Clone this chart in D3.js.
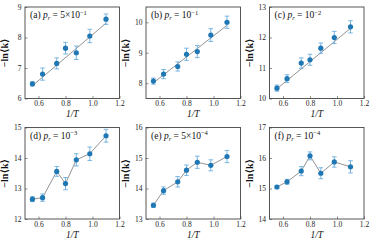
<!DOCTYPE html>
<html>
<head>
<meta charset="utf-8">
<script src="https://cdn.jsdelivr.net/npm/d3@7.9.0/dist/d3.min.js"></script>
<style>
  html, body { margin: 0; padding: 0; background: #fff; }
  svg { display: block; font-family: 'Liberation Serif', 'DejaVu Serif', serif; }
</style>
</head>
<body>
<div id="chart"></div>
<script>
// 1/T values shared by every panel
const invT = [0.555, 0.63, 0.735, 0.80, 0.88, 0.98, 1.10];

// -ln<k> values and error half-widths
const yA = [6.48, 6.80, 7.15, 7.65, 7.50, 8.05, 8.60];
const eA = [0.07, 0.20, 0.18, 0.19, 0.22, 0.22, 0.17];
const yB = [8.07, 8.30, 8.55, 8.95, 9.04, 9.58, 10.00];
const eB = [0.10, 0.15, 0.15, 0.20, 0.20, 0.21, 0.20];
const yC = [10.34, 10.65, 11.16, 11.27, 11.65, 12.00, 12.35];
const eC = [0.10, 0.13, 0.17, 0.18, 0.17, 0.20, 0.20];
const yD = [12.65, 12.70, 13.56, 13.16, 13.94, 14.14, 14.73];
const eD = [0.08, 0.12, 0.16, 0.20, 0.20, 0.22, 0.21];
const yE = [13.45, 13.93, 14.22, 14.60, 14.86, 14.76, 15.05];
const eE = [0.07, 0.12, 0.17, 0.17, 0.20, 0.18, 0.20];
const yF = [15.05, 15.22, 15.57, 16.07, 15.50, 15.87, 15.71];
const eF = [0.05, 0.08, 0.15, 0.13, 0.18, 0.17, 0.20];

// straight fit lines for (a)-(c): [y at x0, y at x1]
const fitX = [0.55, 1.1];
const fitA = [6.40, 8.47];
const fitB = [8.00, 9.90];
const fitC = [10.30, 12.30];

const panelTags = ['(a)', '(b)', '(c)', '(d)', '(e)', '(f)'];
const prMant = ['5\u00d710', '10', '10', '10', '5\u00d710', '10'];
const prExp = ['\u22121', '\u22121', '\u22122', '\u22123', '\u22124', '\u22124'];
const yDomains = [[6, 9], [7.5, 10.5], [10, 13], [12, 15], [13, 16], [14, 17]];
const yTicks = [[6, 7, 8, 9], [8, 9, 10], [10, 11, 12, 13], [12, 13, 14, 15], [13, 14, 15, 16], [14, 15, 16, 17]];
const xTicks = [0.6, 0.8, 1.0, 1.2];

const panels = [
  { y: yA, e: eA, fit: fitA },
  { y: yB, e: eB, fit: fitB },
  { y: yC, e: eC, fit: fitC },
  { y: yD, e: eD, fit: null },
  { y: yE, e: eE, fit: null },
  { y: yF, e: eF, fit: null },
];

const width = 374;
const height = 242;
const lefts = [25, 146, 269.5];
const tops = [7, 127.5];
const pw = 94.5;
const ph = 91.5;

const svg = d3.select('#chart').append('svg')
  .attr('width', width).attr('height', height);

const dotColor = '#1f77b4';
const errColor = '#6aaee0';

panels.forEach((p, i) => {
  const col = i % 3;
  const row = Math.floor(i / 3);
  const x0 = lefts[col];
  const y0 = tops[row];

  const x = d3.scaleLinear().domain([0.5, 1.2]).range([x0, x0 + pw]);
  const y = d3.scaleLinear().domain(yDomains[i]).range([y0 + ph, y0]);

  const g = svg.append('g');

  // axes, ticks pointing inward
  const xAxis = d3.axisBottom(x).tickValues(xTicks).tickFormat(d3.format('.1f'))
    .tickSizeInner(-2.5).tickSizeOuter(0).tickPadding(2.5);
  const yAxis = d3.axisLeft(y).tickValues(yTicks[i]).tickFormat(d3.format('d'))
    .tickSizeInner(-2.5).tickSizeOuter(0).tickPadding(3.5);

  g.append('g').attr('transform', `translate(0,${y0 + ph})`).call(xAxis)
    .call((s) => s.select('.domain').remove());
  g.append('g').attr('transform', `translate(${x0},0)`).call(yAxis)
    .call((s) => s.select('.domain').remove());

  g.selectAll('.tick text')
    .attr('font-family', "'Liberation Serif', serif")
    .attr('font-size', 7.5)
    .attr('fill', '#222');
  g.selectAll('.tick line').attr('stroke', '#444').attr('stroke-width', 0.6);

  // frame
  g.append('rect')
    .attr('x', x0).attr('y', y0).attr('width', pw).attr('height', ph)
    .attr('fill', 'none').attr('stroke', '#444').attr('stroke-width', 0.9);

  const pts = invT.map((t, k) => ({ t, v: p.y[k], e: p.e[k] }));

  // gray line: fit for (a)-(c), polyline for (d)-(f)
  if (p.fit) {
    g.append('line')
      .attr('x1', x(fitX[0])).attr('y1', y(p.fit[0]))
      .attr('x2', x(fitX[1])).attr('y2', y(p.fit[1]))
      .attr('stroke', '#777').attr('stroke-width', 0.8);
  } else {
    g.append('path')
      .datum(pts)
      .attr('d', d3.line().x((d) => x(d.t)).y((d) => y(d.v)))
      .attr('fill', 'none').attr('stroke', '#777').attr('stroke-width', 0.8);
  }

  // error bars
  const eb = g.append('g').attr('stroke', errColor).attr('stroke-width', 0.9);
  eb.selectAll('line.v').data(pts).join('line').attr('class', 'v')
    .attr('x1', (d) => x(d.t)).attr('x2', (d) => x(d.t))
    .attr('y1', (d) => y(d.v - d.e)).attr('y2', (d) => y(d.v + d.e));
  eb.selectAll('line.top').data(pts).join('line').attr('class', 'top')
    .attr('x1', (d) => x(d.t) - 2.3).attr('x2', (d) => x(d.t) + 2.3)
    .attr('y1', (d) => y(d.v + d.e)).attr('y2', (d) => y(d.v + d.e));
  eb.selectAll('line.bot').data(pts).join('line').attr('class', 'bot')
    .attr('x1', (d) => x(d.t) - 2.3).attr('x2', (d) => x(d.t) + 2.3)
    .attr('y1', (d) => y(d.v - d.e)).attr('y2', (d) => y(d.v - d.e));

  // markers
  g.selectAll('circle').data(pts).join('circle')
    .attr('cx', (d) => x(d.t)).attr('cy', (d) => y(d.v))
    .attr('r', 2.6).attr('fill', dotColor);

  // panel annotation
  const ann = g.append('text')
    .attr('x', x0 + 5).attr('y', y0 + 11)
    .attr('font-size', 9.5).attr('fill', '#111');
  ann.append('tspan').text(panelTags[i] + ' ');
  ann.append('tspan').attr('font-style', 'italic').text('p');
  ann.append('tspan').attr('font-style', 'italic').attr('font-size', 6.5).attr('dy', 2).text('r');
  ann.append('tspan').attr('dy', -2).text(' = ' + prMant[i]);
  ann.append('tspan').attr('font-size', 6.5).attr('dy', -3.5).text(prExp[i]);

  // axis labels
  g.append('text')
    .attr('x', x0 + pw / 2).attr('y', y0 + ph + 18.5)
    .attr('text-anchor', 'middle').attr('font-size', 9.5)
    .attr('font-style', 'italic').attr('fill', '#111')
    .text('1/T');

  g.append('text')
    .attr('transform', `translate(${x0 - 17},${y0 + ph / 2}) rotate(-90)`)
    .attr('text-anchor', 'middle').attr('font-size', 10).attr('fill', '#111')
    .attr('font-weight', 'bold')
    .text('\u2212ln\u27e8k\u27e9');
});
</script>
</body>
</html>
